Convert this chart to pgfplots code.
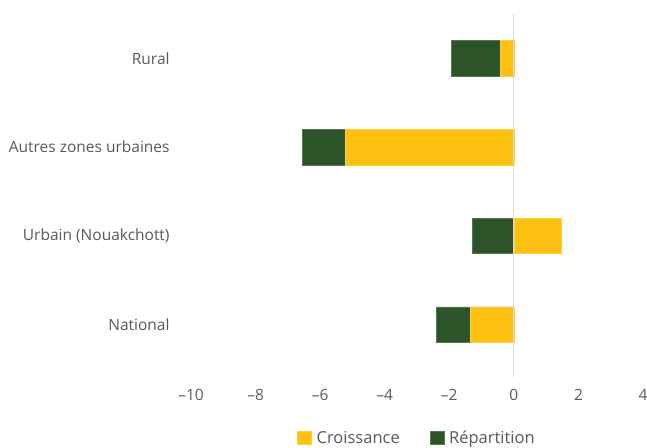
\documentclass[border=0pt]{standalone}
\usepackage{pgfplots}
\pgfplotsset{compat=1.18}
\usepackage{fontspec}
\setmainfont{Open Sans}
\definecolor{cro}{HTML}{FEC111}
\definecolor{rep}{HTML}{2D5428}
\definecolor{txt}{HTML}{595959}
\definecolor{zline}{HTML}{D9D9D9}
\begin{document}
\begin{tikzpicture}[x=1pt,y=1pt]
\useasboundingbox (0,0) rectangle (647,447);
\begin{axis}[
  at={(191pt,70pt)}, anchor=south west,
  scale only axis, width=452pt, height=363pt,
  xmin=-10, xmax=4, ymin=-0.59, ymax=3.5,
  axis line style={draw=none},
  xbar, bar shift=0pt, bar width=0.4,
  xtick={-10,-8,...,4},
  xticklabels={–10,–8,–6,–4,–2,0,2,4},
  ytick={0,1,2,3},
  yticklabels={National,Urbain (Nouakchott),Autres zones urbaines,Rural},
  tick style={draw=none},
  ticklabel style={font=\fontsize{15.5}{18}\selectfont, text=txt},
  yticklabel style={anchor=east, inner sep=0pt, xshift=-17pt},
  xticklabel style={anchor=north, inner sep=0pt, yshift=-12pt},
  legend style={at={(0.50,-0.168)}, anchor=center, draw=none, fill=none,
    font=\fontsize{16.5}{18}\selectfont, text=txt,
    /tikz/every odd column/.append style={column sep=0pt},
    /tikz/every even column/.append style={column sep=28pt}},
  legend columns=2, reverse legend,
  legend image code/.code={\fill[#1] (0pt,-6pt) rectangle (14pt,7pt);},
  clip=false,
]
% Répartition: bar end = total (croissance + répartition)
\addplot[fill=rep, draw=rep!80!white, line width=0.4pt] coordinates {(-2.41,0) (-1.29,1) (-6.56,2) (-1.94,3)};
\addlegendentry{\hspace{3pt}Répartition}
% Croissance
\addplot[fill=cro, draw=cro!80!white, line width=0.4pt] coordinates {(-1.34,0) (1.46,1) (-5.22,2) (-0.41,3)};
\addlegendentry{\hspace{3pt}Croissance}
\draw[zline, line width=1pt] (axis cs:0,-0.59) -- (axis cs:0,3.5);
\end{axis}
\end{tikzpicture}
\end{document}
